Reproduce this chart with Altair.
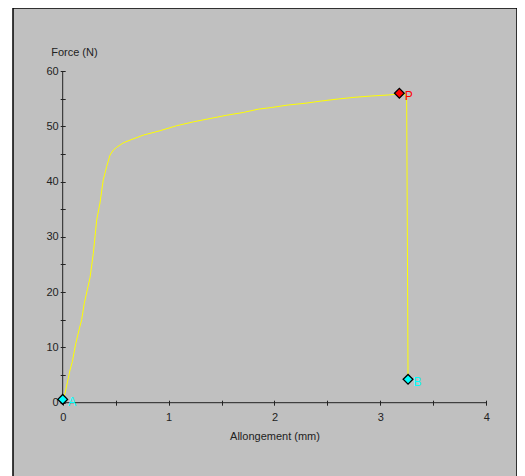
import altair as alt
import pandas as pd

# ---- data ----
strain = [0.0, 0.022, 0.069, 0.091, 0.123, 0.154, 0.179, 0.204, 0.232, 0.258,
          0.289, 0.305, 0.321, 0.352, 0.383, 0.415, 0.447, 0.478, 0.51, 0.572,
          0.636, 0.761, 0.919, 1.076, 1.233, 1.391, 1.549, 1.705, 1.847, 1.973,
          2.130, 2.288, 2.446, 2.603, 2.760, 2.918, 3.075, 3.138, 3.179, 3.248,
          3.261]
force = [0.5, 1.7, 5.9, 7.4, 10.7, 13.15, 15.0, 18.0, 20.4, 22.6,
         27.0, 30.0, 33.05, 36.1, 40.3, 42.7, 44.8, 45.7, 46.2, 47.0,
         47.5, 48.4, 49.2, 50.1, 50.8, 51.4, 52.0, 52.5, 53.1, 53.4,
         53.85, 54.16, 54.58, 54.94, 55.25, 55.48, 55.66, 55.79, 55.97, 55.6,
         4.23]

point_names = ["A", "P", "B"]
point_x = [0.0, 3.179, 3.261]
point_y = [0.6, 55.97, 4.23]

x_ticks = [0, 0.5, 1, 1.5, 2, 2.5, 3, 3.5, 4]
y_ticks = [0, 5, 10, 15, 20, 25, 30, 35, 40, 45, 50, 55, 60]
x_span = [0, 4]
y_span = [0, 60]

# ---- layout (the plot area is the grey panel) ----
W, H = 504, 468
PX_X = 105.9          # pixels per mm
X0 = 49.7             # x=0 from panel left
PX_Y = 331.7 / 60     # pixels per N
Y0 = 394.7            # y=0 from panel top
X_DOMAIN = [-X0 / PX_X, (W - X0) / PX_X]
Y_DOMAIN = [-(H - Y0) / PX_Y, 60 + (Y0 - 331.7) / PX_Y]

TXT = "#222222"
FONT = "Liberation Sans"

xs = alt.Scale(domain=X_DOMAIN, nice=False, zero=False)
ys = alt.Scale(domain=Y_DOMAIN, nice=False, zero=False)

x_axis = alt.Axis(
    orient="bottom", offset=-(H - Y0) - 2.5, domain=False, grid=False,
    values=x_ticks, tickSize=5, tickColor=TXT, tickWidth=1, format="~g",
    labelExpr="datum.value % 1 == 0 ? datum.label : ''",
    labelOverlap=False, labelFlush=False, labelPadding=6,
    labelFont=FONT, labelFontSize=11, labelColor=TXT,
    title="Allongement (mm)", titleFont=FONT, titleFontSize=11,
    titleFontWeight="normal", titleColor=TXT, titleX=X0 + 2 * PX_X,
    titleY=35.8, titleAlign="center", titleBaseline="middle",
)
y_axis = alt.Axis(
    orient="left", offset=-(X0 + 2.5), domain=False, grid=False,
    values=y_ticks, tickSize=5, tickColor=TXT, tickWidth=1, format="~g",
    labelExpr="datum.value % 10 == 0 ? datum.label : ''",
    labelOverlap=False, labelFlush=False, labelPadding=2,
    labelFont=FONT, labelFontSize=11, labelColor=TXT,
    title="Force (N)", titleFont=FONT, titleFontSize=11,
    titleFontWeight="normal", titleColor=TXT, titleAngle=0,
    titleAlign="left", titleBaseline="middle", titleX=-14.5, titleY=44,
)


def ex(f):
    return alt.X(f, type="quantitative", scale=xs, axis=x_axis)


def ey(f):
    return alt.Y(f, type="quantitative", scale=ys, axis=y_axis)


curve_df = pd.DataFrame({"x": strain, "y": force, "i": list(range(len(strain)))})
pts_df = pd.DataFrame({"name": point_names, "x": point_x, "y": point_y})
xline_df = pd.DataFrame({"x": [x_span[0]], "x2": [x_span[1]], "y": [0]})
yline_df = pd.DataFrame({"x": [0], "y": [y_span[0]], "y2": [y_span[1]]})

axis_x_line = alt.Chart(xline_df).mark_rule(color=TXT, strokeWidth=1).encode(
    x=ex("x"), x2="x2", y=ey("y"))
axis_y_line = alt.Chart(yline_df).mark_rule(color=TXT, strokeWidth=1).encode(
    x=ex("x"), y=ey("y"), y2="y2")

curve = alt.Chart(curve_df).mark_line(color="#FFFF00", strokeWidth=1).encode(
    x=ex("x"), y=ey("y"), order="i:Q")

fill_scale = alt.Scale(domain=["A", "P", "B"], range=["#00FFFF", "#FF0000", "#00FFFF"])
text_scale = alt.Scale(domain=["A", "P", "B"], range=["#00FFFF", "#FF3333", "#00FFFF"])

markers = alt.Chart(pts_df).mark_point(
    shape="diamond", filled=True, size=95, stroke="#000000", strokeWidth=1.3,
    opacity=1).encode(
    x=ex("x"), y=ey("y"),
    fill=alt.Fill("name:N", scale=fill_scale, legend=None))

labels = alt.Chart(pts_df).mark_text(
    align="left", baseline="middle", dx=5.5, dy=2.5, font=FONT, fontSize=12).encode(
    x=ex("x"), y=ey("y"), text="name:N",
    fill=alt.Fill("name:N", scale=text_scale, legend=None))

chart = alt.layer(axis_x_line, axis_y_line, curve, markers, labels).properties(
    width=W, height=H,
    padding={"left": 5, "top": 0, "right": 0, "bottom": 0},
    background="#FFFFFF",
).configure_view(
    fill="#C0C0C0", stroke="#000000", strokeWidth=1.5,
    strokeDash=[W + H, W, H, 0]
)

chart.save("out.html", embed_options={"renderer": "svg", "actions": False})
